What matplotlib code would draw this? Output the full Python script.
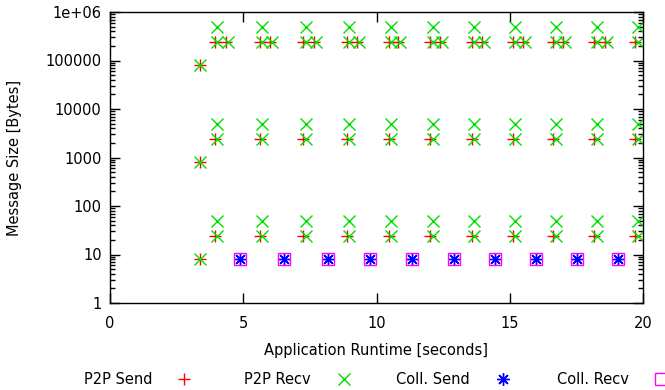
import matplotlib
matplotlib.use('Agg')
import matplotlib.pyplot as plt
from matplotlib.lines import Line2D
from matplotlib.ticker import FixedLocator, FixedFormatter, LogLocator, NullFormatter
import numpy as np

# first burst (all three sizes at once)
t_init = [3.38, 3.38, 3.38]
size_init = [8, 800, 80000]

# periodic p2p send / recv times (seconds)
t_send = [3.94, 5.63, 7.24, 8.89, 10.47, 12.01, 13.58, 15.12, 16.62, 18.16, 19.70]
t_send_late = [4.35, 6.00, 7.65, 9.27, 10.80, 12.38, 13.96, 15.50, 17.00, 18.57]
t_recv = [4.01, 5.70, 7.35, 8.97, 10.54, 12.12, 13.66, 15.20, 16.73, 18.27, 19.81]
t_recv_late = [4.43, 6.08, 7.73, 9.34, 10.88, 12.46, 14.03, 15.57, 17.07, 18.65]
send_sizes = [24, 2400, 240000]
recv_sizes = [24, 48, 2400, 4800, 240000, 480000]
late_size = 240000

# collective operations
t_coll = [4.88, 6.53, 8.18, 9.76, 11.33, 12.91, 14.45, 15.98, 17.52, 19.06]
coll_size = 8

yticks = [1, 10, 100, 1000, 10000, 100000, 1000000]
ylabels = ['1', '10', '100', '1000', '10000', '100000', '1e+06']

plt.rcParams['font.family'] = 'DejaVu Sans'
fig = plt.figure(figsize=(6.65, 3.9), dpi=100)
ax = fig.add_axes([110/665, 1-303/390, 533/665, 291/390])

red, green, blue, magenta = '#ff0000', '#00e000', '#0000ff', '#ff00ff'

# P2P send
xs = t_init + [t for s in send_sizes for t in t_send] + t_send_late
ys = size_init + [s for s in send_sizes for t in t_send] + [late_size] * len(t_send_late)
ax.plot(xs, ys, ls='none', marker='+', ms=9, mew=1.0, color=red)

# P2P recv
xr = t_init + [t for s in recv_sizes for t in t_recv] + t_recv_late
yr = size_init + [s for s in recv_sizes for t in t_recv] + [late_size] * len(t_recv_late)
ax.plot(xr, yr, ls='none', marker='x', ms=9, mew=1.0, color=green)

# collectives
ax.plot(t_coll, [coll_size] * len(t_coll), ls='none', marker=(8, 2, 0), ms=9, mew=1.0, color=blue)
ax.plot(t_coll, [coll_size] * len(t_coll), ls='none', marker='s', ms=8.5, mew=1.0,
        mfc='none', mec=magenta)

ax.set_yscale('log')
ax.set_xlim(0, 20)
ax.set_ylim(1, 1e6)
ax.set_xticks([0, 5, 10, 15, 20])
ax.yaxis.set_major_locator(FixedLocator(yticks))
ax.yaxis.set_major_formatter(FixedFormatter(ylabels))
ax.yaxis.set_minor_locator(LogLocator(base=10, subs=np.arange(2, 10)))
ax.yaxis.set_minor_formatter(NullFormatter())
ax.tick_params(which='both', direction='in', top=True, right=True, labelsize=10.5, width=1)
ax.tick_params(which='major', length=7)
ax.tick_params(axis='x', which='major', pad=9)
ax.tick_params(axis='y', which='major', pad=6)
ax.tick_params(which='minor', length=3.5)
for sp in ax.spines.values():
    sp.set_linewidth(1.0)

ax.set_xlabel('Application Runtime [seconds]', fontsize=10.5, labelpad=9)
ax.set_ylabel('Message Size [Bytes]', fontsize=10.5, labelpad=17)

# gnuplot-style key below the plot
labels = ['P2P Send', 'P2P Recv', 'Coll. Send', 'Coll. Recv']
text_right = [152, 311, 470, 629]
mark_x = [184, 344, 503, 661]
ky = 1 - 379/390
for lab, tx in zip(labels, text_right):
    fig.text(tx/665, ky, lab, ha='right', va='center', fontsize=10.5)
samples = [dict(marker='+', color=red), dict(marker='x', color=green),
           dict(marker=(8, 2, 0), color=blue),
           dict(marker='s', mfc='none', mec=magenta, color=magenta)]
for mx, kw in zip(mark_x, samples):
    fig.add_artist(Line2D([mx/665], [ky], ls='none', ms=9, mew=1.0,
                          transform=fig.transFigure, **kw))

fig.savefig('out.png', dpi=100)
